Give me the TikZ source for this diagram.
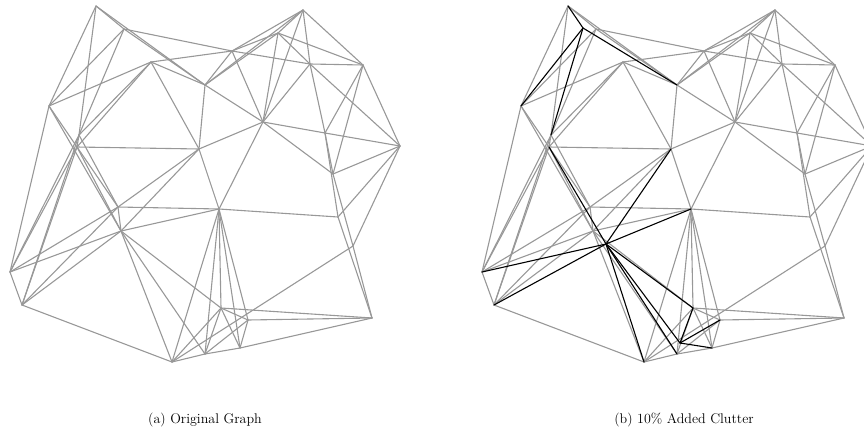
\documentclass[tikz,border=0pt]{standalone}
\definecolor{edgegray}{RGB}{152,152,152}
\tikzset{
  gedge/.style={draw=edgegray, line width=1.1pt, line cap=round, line join=round},
  bedge/.style={draw=black, line width=1.1pt, line cap=round, line join=round},
  captext/.style={anchor=base, inner sep=0pt, font=\fontsize{14}{17}\selectfont}
}
\newcommand\graphpoints[1]{%
  \foreach \n/\x/\y in {A/96/6, B/124/29, C/151/62, D/49/106, E/79/135, F/77/147,
      G/199/149, H/205/85, I/232/51, J/278/33, K/303/10, L/310/64, M/363/65,
      N/263/122, O/400/146, P/325/133, Q/333/174, R/118/207, S/121/231,
      T/219/209, U/338/217, V/10/272, W/22/305, X/172/362, Y/221/308,
      Z/248/320, AA/240/348, BB/205/354, CC/372/318, DD/353/246}
    {\coordinate (#1\n) at (\x,\y);}%
}
\newcommand\graphedges[1]{%
  \foreach \u/\v in {A/B, A/D, A/E, A/H,
      B/D, B/E, B/H, B/I,
      C/D, C/E, C/F, C/G, C/H, C/I,
      D/V, D/R, D/S,
      E/F, E/V, E/W, E/R,
      F/G, F/V, F/W, F/S,
      G/H, G/N, G/T, G/R, G/S,
      H/I, H/J, H/K, H/N,
      I/J, I/K, I/L, I/N,
      J/K, J/L, J/M, J/N,
      K/L, K/M, K/N,
      L/M, L/N, L/P, L/O,
      M/P, M/Q, M/O,
      N/P, N/T, N/Q,
      O/P, O/Q, O/U, O/DD,
      P/Q, P/U,
      Q/DD, DD/CC, U/CC,
      R/S, R/T, R/V, R/W,
      S/T, S/V, S/W, S/X, S/BB, S/Y,
      T/U, T/X, T/BB, T/Y, T/AA, T/Z,
      V/W, W/X,
      X/BB, X/Y, X/DD,
      Y/BB, Y/AA, Y/Z, Y/CC,
      Z/CC, Z/AA, Z/BB,
      BB/AA, AA/CC}
    {\draw[gedge] (#1\u) -- (#1\v);}%
}
\begin{document}
\begin{tikzpicture}[x=1pt, y=-1pt]
  \useasboundingbox (0,0) rectangle (864,439);
  \clip (0,0) rectangle (864,439);
  % (a) original graph
  \graphpoints{a}
  \graphedges{a}
  % (b) graph with added clutter
  \begin{scope}[xshift=472pt]
    \graphpoints{b}
    \coordinate (bN1) at (111,28);
    \coordinate (bN2) at (134,244);
    \coordinate (bN3) at (208,343);
  \end{scope}
  \graphedges{b}
  \foreach \u/\v in {N1/A, N1/D, N1/E, N1/H,
      N2/F, N2/G, N2/T, N2/V, N2/W, N2/X, N2/BB, N2/Y, N2/N3,
      N3/Y, N3/Z, N3/AA}
    {\draw[bedge] (b\u) -- (b\v);}
  % captions
  \node[captext] (capa) at (205,423) {(a) Original Graph};
  \node[captext] (capb) at (684,423) {(b) 10\% Added Clutter};
\end{tikzpicture}
\end{document}
